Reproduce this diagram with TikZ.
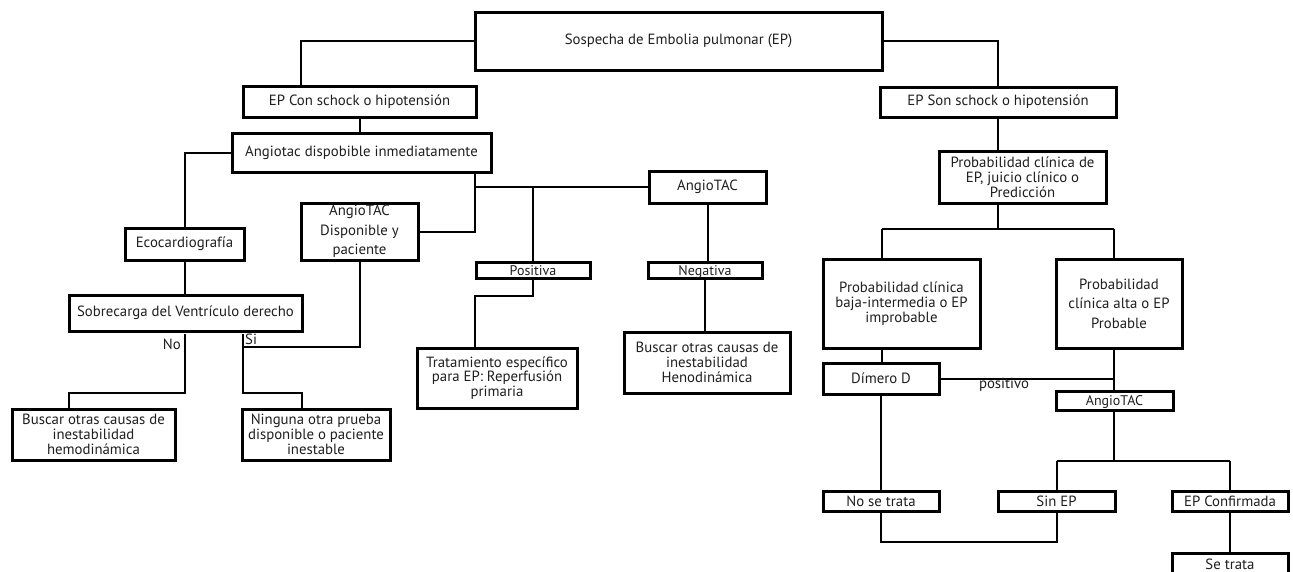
\documentclass[tikz,border=0pt]{standalone}
\usepackage{fontspec}
\setmainfont{PT Sans}
% box by its corners: name, left, top, right, bottom, extra options, text
\newcommand\mkbox[7]{%
  \node[box,#6,minimum width={(#4-#2)*1pt},minimum height={(#5-#3)*1pt}]
    (#1) at ({(#2+#4)/2},{(#3+#5)/2}) {#7};}
\begin{document}
\begin{tikzpicture}[x=1pt,y=-1pt,
  box/.style={draw=black,line width=3pt,inner sep=0pt,align=center,
    font=\fontsize{14.8}{14.8}\selectfont,text=black!88},
  loose/.style={font=\fontsize{14.8}{19.5}\selectfont},
  small/.style={font=\fontsize{14}{14}\selectfont,text height=11pt,text depth=1pt},
  wire/.style={line width=2pt},
  lbl/.style={inner sep=0pt,font=\fontsize{14.8}{15}\selectfont,text=black!88}]
\useasboundingbox[fill=white] (0,0) rectangle (1293,571);

% ---- boxes ----
\mkbox{top}{475}{12}{882}{70}{}{Sospecha de Embolia pulmonar (EP)}
\mkbox{con}{243}{86}{476}{117}{}{EP Con schock o hipotensión}
\mkbox{son}{880}{87}{1116}{117}{}{EP Son schock o hipotensión}
\mkbox{angio}{232}{133}{491}{172}{}{Angiotac dispobible inmediatamente}
\mkbox{eco}{125}{228}{244}{260}{}{Ecocardiografía}
\mkbox{dispo}{301}{203}{418}{260}{loose}{AngioTAC\\Disponible y\\paciente}
\mkbox{sobre}{69}{295}{302}{331}{}{Sobrecarga del Ventrículo derecho}
\mkbox{tacm}{649}{171}{766}{203}{}{AngioTAC}
\mkbox{pos}{476}{262}{590}{278}{small}{Positiva}
\mkbox{neg}{648}{262}{762}{278}{small}{Negativa}
\mkbox{trat}{417}{348}{577}{408}{}{Tratamiento específico\\para EP: Reperfusión\\primaria}
\mkbox{busH}{624}{332}{790}{393}{}{Buscar otras causas de\\inestabilidad\\Henodinámica}
\mkbox{busL}{12}{409}{175}{460}{}{Buscar otras causas de\\inestabilidad\\hemodinámica}
\mkbox{ning}{242}{409}{390}{460}{}{Ninguna otra prueba\\disponible o paciente\\inestable}
\mkbox{pred}{939}{151}{1106}{203}{}{Probabilidad clínica de\\EP, juicio clínico o\\Predicción}
\mkbox{baja}{823}{259}{980}{348}{}{Probabilidad clínica\\baja-intermedia o EP\\improbable}
\mkbox{alta}{1056}{259}{1182}{348}{loose}{Probabilidad\\clínica alta o EP\\Probable}
\mkbox{dim}{823}{363}{939}{394}{}{Dímero D}
\mkbox{tacr}{1056}{391}{1173}{410}{small}{AngioTAC}
\mkbox{nose}{823}{491}{939}{511}{}{No se trata}
\mkbox{sin}{998}{491}{1115}{511}{}{Sin EP}
\mkbox{conf}{1172}{491}{1288}{511}{}{EP Confirmada}
\mkbox{setr}{1172}{553}{1288}{575}{}{Se trata}

% ---- left branch ----
\coordinate (j1) at (301,41);
\draw[wire] (top.west) -- (j1) -- (j1 |- con.north);
\draw[wire] (con.south) -- (con.south |- angio.north);
\draw[wire] (angio.west) -| (eco.north);
\draw[wire] (eco.south) -- (eco.south |- sobre.north);

\coordinate (j2) at (475,187);
\draw[wire] (j2 |- angio.south) -- (j2) -- (j2 -| tacm.west);
\draw[wire] (j2) |- (dispo.east);
\draw[wire] (j2 -| pos.north) -- (pos.north);
\draw[wire] (tacm.south) -- (tacm.south |- neg.north);
\coordinate (j3) at (475,296);
\draw[wire] (pos.south) |- (j3) -- (j3 |- trat.north);
\draw[wire] (neg.south) -- (neg.south |- busH.north);

% Si / No
\coordinate (si) at (243,334);
\coordinate (j4) at (243,393);
\coordinate (j5) at (302,393);
\coordinate (j6) at (243,347);
\draw[wire] (si) -- (j4) -- (j5) -- (j5 |- ning.north);
\draw[wire] (dispo.south) |- (j6);
\coordinate (no) at (185,334);
\coordinate (j7) at (185,393);
\coordinate (j8) at (69,393);
\draw[wire] (no) -- (j7) -- (j8) -- (j8 |- busL.north);
\node[lbl,anchor=east] (lno) at (181,344) {No};
\node[lbl,anchor=west] (lsi) at (245,339) {Si};

% ---- right branch ----
\draw[wire] (top.east) -| (son.north);
\draw[wire] (son.south) -- (son.south |- pred.north);
\coordinate (j9) at (998,229);
\coordinate (jL) at (882,229);
\coordinate (jR) at (1114,229);
\draw[wire] (j9 |- pred.south) -- (j9);
\draw[wire] (jL) -- (jR);
\draw[wire] (jL) -- (jL |- baja.north);
\draw[wire] (jR) -- (jR |- alta.north);
\draw[wire] (jL |- baja.south) -- (jL |- dim.north);
\draw[wire] (dim.east) -- (jR |- dim.east);
\draw[wire] (jR |- alta.south) -- (jR |- tacr.north);
\node[lbl] (lpos) at (1004,385) {positivo};

\coordinate (j10) at (1114,461);
\draw[wire] (jR |- tacr.south) -- (j10);
\draw[wire] (j10 -| sin.north) -- (j10 -| conf.north);
\draw[wire] (j10 -| sin.north) -- (sin.north);
\draw[wire] (j10 -| conf.north) -- (conf.north);
\draw[wire] (dim.south) -- (nose.north);
\coordinate (j11) at (881,542);
\draw[wire] (nose.south) -- (j11) -| (sin.south);
\draw[wire] (conf.south) -- (setr.north);
\end{tikzpicture}
\end{document}
